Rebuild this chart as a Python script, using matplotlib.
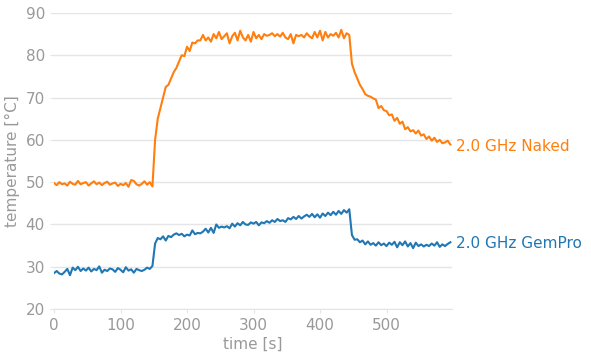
import numpy as np
import matplotlib
matplotlib.use('Agg')
import matplotlib.pyplot as plt

# temperatura lida a cada 4 s
naked = [49.8, 49.3, 50.0, 49.5, 49.7, 49.2, 50.1, 49.6, 49.4, 50.3, 49.5, 49.8, 50.0, 49.2, 49.7, 50.2,
         49.5, 49.9, 49.3, 49.8, 50.1, 49.4, 49.7, 49.9, 49.1, 49.6, 49.3, 49.8, 48.9, 50.5, 50.3, 49.5,
         49.2, 49.6, 50.2, 49.4, 50.0, 49.0,
         60.0, 65.0, 67.5, 70.0, 72.5, 73.0, 74.5, 76.0, 77.0, 78.5, 80.0, 79.8, 82.0, 81.0, 83.0, 82.8,
         83.5, 83.5, 84.8, 83.5, 84.2, 83.2, 85.0, 84.0, 85.5, 83.8, 84.5, 85.2, 82.8, 84.5, 85.3, 83.5,
         85.8, 84.2, 83.5, 84.8, 83.2, 85.5, 84.0, 84.8, 83.8, 85.0, 84.6, 84.8, 85.2, 84.5, 85.0, 84.4,
         85.3, 84.2, 83.8, 85.0, 82.8, 84.8, 84.5, 84.8, 84.2, 85.2, 84.5, 84.0, 85.5, 84.2, 85.8, 83.5,
         85.5, 84.2, 85.0, 84.6, 85.3, 84.2, 86.0, 84.0, 85.2, 84.8, 78.0, 76.0, 74.5, 73.0, 72.0, 70.8,
         70.4, 70.2, 69.8, 69.5, 67.5, 68.0, 67.0, 66.8, 65.8, 66.0, 64.5, 65.2, 63.8, 64.3, 62.5, 63.0,
         62.0, 62.3, 61.5, 62.2, 61.0, 61.3, 60.2, 60.8, 59.8, 60.5, 59.5, 60.0, 59.2, 59.4, 59.8, 58.9]

gempro = [28.5, 29.0, 28.4, 28.2, 28.8, 29.5, 28.0, 29.8, 29.2, 30.0, 29.0, 29.6, 29.1, 29.8, 28.9, 29.5,
          29.2, 30.1, 28.6, 29.3, 29.0, 29.6, 29.4, 28.8, 29.7, 29.3, 28.7, 29.9, 29.1, 29.4, 28.6, 29.5,
          29.2, 29.0, 29.3, 29.8, 29.5, 30.2,
          35.5, 36.8, 36.5, 37.2, 36.2, 37.3, 37.0, 37.6, 37.9, 37.5, 37.8, 37.2, 37.6, 37.4, 38.6, 37.7,
          38.0, 37.9, 38.3, 39.0, 38.1, 39.2, 38.0, 40.0, 39.2, 39.5, 39.3, 39.6, 39.1, 40.2, 39.5, 40.3,
          39.8, 40.6, 40.0, 39.9, 40.5, 40.2, 40.6, 39.8, 40.5, 40.3, 40.8, 40.4, 41.0, 40.6, 41.3, 40.8,
          41.0, 40.6, 41.5, 41.2, 41.8, 41.3, 42.0, 41.4, 41.9, 42.3, 41.8, 42.5, 41.7, 42.4, 41.6, 42.6,
          42.0, 42.8, 42.2, 43.0, 42.3, 43.2, 42.5, 43.4, 42.8, 43.6, 37.5, 36.4, 36.5, 35.8, 36.2, 35.3,
          36.0, 35.2, 35.6, 35.0, 35.8, 35.1, 35.5, 34.9, 35.7, 35.2, 35.9, 34.6, 35.8, 35.1, 36.0, 34.8,
          35.6, 34.4, 35.7, 34.9, 35.3, 34.8, 35.2, 34.9, 35.5, 35.0, 35.8, 34.7, 35.3, 34.9, 35.4, 35.8]

labels = ['2.0 GHz Naked', '2.0 GHz GemPro']
cores = ['#ff7f0e', '#1f77b4']

fig = plt.figure(figsize=(5.91, 3.59), dpi=100)
ax = fig.add_axes([0.0914, 0.139, 0.674, 0.825])

cinza = '#999999'
for serie, nome, cor in zip([naked, gempro], labels, cores):
    t = np.arange(len(serie)) * 4
    ax.plot(t, serie, color=cor, linewidth=1.5)
    ax.text(t[-1] + 8, serie[-1] - 0.4, nome, color=cor, fontsize=11, va='center')

ax.set_xlim(0, 599)
ax.set_ylim(20, 90)
ax.set_xticks([0, 100, 200, 300, 400, 500])
ax.set_yticks(range(20, 91, 10))
ax.grid(True, axis='y', color='#e5e5e5', linewidth=1)
ax.set_axisbelow(True)
for lado in ['top', 'right', 'left']:
    ax.spines[lado].set_visible(False)
ax.spines['bottom'].set_color('#e5e5e5')
ax.tick_params(colors='#e5e5e5', labelsize=11, length=3, labelcolor=cinza)
ax.set_xlabel('time [s]', color=cinza, fontsize=11, labelpad=3)
ax.set_ylabel('temperature [°C]', color=cinza, fontsize=11)

fig.savefig('out.png', dpi=100)
